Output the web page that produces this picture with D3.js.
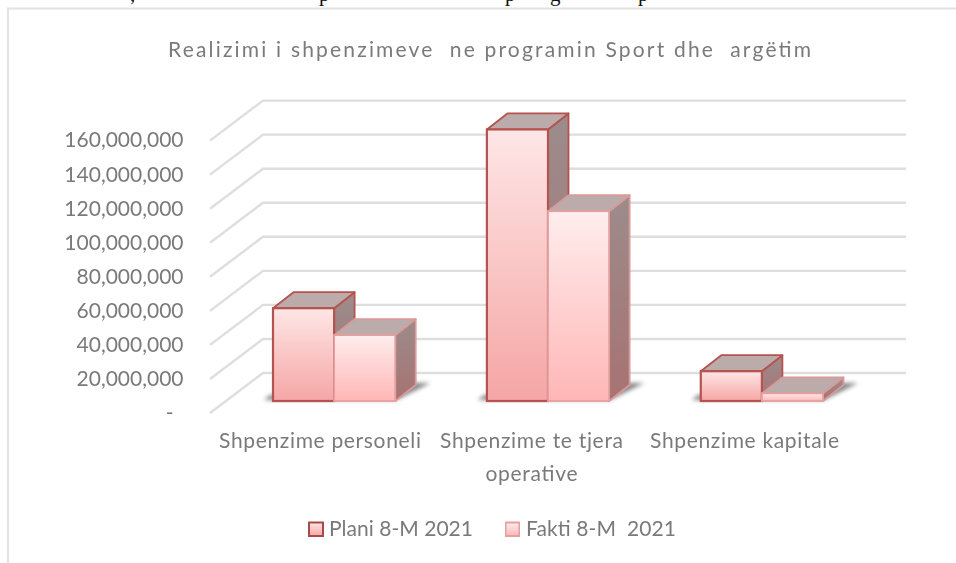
<!DOCTYPE html>
<html><head><meta charset="utf-8">
<script src="https://cdn.jsdelivr.net/npm/d3@7"></script>
<style>html,body{margin:0;padding:0;background:#fff;overflow:hidden}svg{display:block}</style>
</head><body><svg id="c" width="956" height="563"></svg>
<script>
const titleText = "Realizimi i shpenzimeve  ne programin Sport dhe  argëtim";
const categories = ["Shpenzime personeli", "Shpenzime te tjera operative", "Shpenzime kapitale"];
const seriesNames = ["Plani 8-M 2021", "Fakti 8-M  2021"];
const planiValues = [54500000, 159500000, 17500000];
const faktiValues = [38700000, 111500000, 4500000];
const tickValues = [0, 20000000, 40000000, 60000000, 80000000, 100000000, 120000000, 140000000, 160000000];

const svg = d3.select("#c");
const defs = svg.append("defs");
const grad = (id, stops, x2=0, y2=1) => {
  const g = defs.append("linearGradient").attr("id", id).attr("x1",0).attr("y1",0).attr("x2",x2).attr("y2",y2);
  stops.forEach(([o,c]) => g.append("stop").attr("offset",o).attr("stop-color",c));
};
grad("frontP", [[0,"#fee6e6"],[1,"#f5a6a5"]]);
grad("frontF", [[0,"#ffeded"],[1,"#ffb6b6"]]);
grad("side", [[0,"#9c8c8c"],[1,"#a87272"]]);
defs.append("filter").attr("id","soft").attr("x","-5%").attr("y","-5%").attr("width","110%").attr("height","110%")
  .append("feGaussianBlur").attr("stdDeviation",0.7);
defs.append("filter").attr("id","shadow").attr("x","-30%").attr("y","-60%").attr("width","160%").attr("height","220%")
  .append("feGaussianBlur").attr("stdDeviation",2);
defs.append("filter").attr("id","txt").attr("x","-2%").attr("y","-10%").attr("width","104%").attr("height","120%")
  .append("feGaussianBlur").attr("stdDeviation",0.35);

const textColor = "#7a7a7a", font = "Lato, sans-serif";
const depthGridX = 53, depthGridY = 40, depthBarX = 20.5, depthBarY = 16;

// frame of the source document
svg.append("path").attr("d","M8 563V8.5H956").attr("fill","none").attr("stroke","#e2e2e2").attr("stroke-width",2);

// cropped body text line above the chart
const fragments = [[130,","],[319,"p"],[505,"p"],[550,"g"],[638,"p"]];
svg.append("g").selectAll("text").data(fragments).join("text")
  .attr("x",d=>d[0]).attr("y",1).text(d=>d[1])
  .attr("font-family","'Liberation Serif', serif").attr("font-size",21).attr("fill","#111");

// title
svg.append("text").attr("x",489.5).attr("y",57).attr("text-anchor","middle")
  .style("white-space","pre").attr("font-family",font).attr("font-size",21).attr("fill",textColor)
  .attr("textLength",643).attr("lengthAdjust","spacing").text(titleText).attr("filter","url(#txt)");

// scales
const yGrid = d3.scaleLinear().domain([0,160000000]).range([413,140.6]);
const yBar = d3.scaleLinear().domain([0,160000000]).range([401,128.6]);
const xBand = d3.scaleBand().domain(categories).range([273,823]).paddingInner(0.4286).paddingOuter(0);
const xSeries = d3.scaleBand().domain(seriesNames).range([0,xBand.bandwidth()]);

// gridlines
const xFront = 210, xBack = 263, xRight = 906;
svg.append("g").attr("filter","url(#soft)").selectAll("path").data(tickValues).join("path")
  .attr("d",v=>`M${xFront} ${yGrid(v)}L${xBack} ${yGrid(v)-depthGridY}H${xRight}`)
  .attr("fill","none").attr("stroke","#dedede").attr("stroke-width",2.4);

// y axis labels
const axis = d3.axisLeft(yGrid).tickValues(tickValues).tickSize(0).tickPadding(0)
  .tickFormat(v=> v===0 ? "-" : d3.format(",")(v));
const axG = svg.append("g").attr("transform","translate(183.5,0)").call(axis);
axG.select(".domain").remove();
axG.selectAll("text").attr("font-family",font).attr("font-size",21).attr("fill",textColor)
  .attr("dy","0.35em").attr("transform","translate(0,-1)").attr("filter","url(#txt)");
axG.selectAll(".tick").filter(d=>d===0).select("text").attr("x",-10);

// bars
const rows = categories.map((c,i)=>({c, vals:[planiValues[i], faktiValues[i]]}));
const groups = svg.append("g").selectAll("g").data(rows).join("g")
  .attr("transform",d=>`translate(${xBand(d.c)},0)`);
// floor shadow
const base = yBar(0), bw = xSeries.bandwidth();
groups.append("path").attr("filter","url(#shadow)").attr("fill","#707070").attr("opacity",0.85)
  .attr("d",`M-9 ${base-1}H${2*bw+1}L${2*bw+35} ${base-18}H${2*bw+12}L${2*bw} ${base-6}H-3Z`);

const barStroke = ["#b5534f","#e4a09e"], edgeStroke = ["#b5534f","#d99a98"];
const bars = groups.append("g").attr("filter","url(#soft)").selectAll("g")
  .data(d=>d.vals.map((v,i)=>({v,i}))).join("g")
  .attr("transform",d=>`translate(${xSeries(seriesNames[d.i])},0)`);
// side
bars.append("path").attr("fill","url(#side)").attr("stroke",d=>edgeStroke[d.i]).attr("stroke-width",1.8).attr("stroke-linejoin","round")
  .attr("d",d=>{const t=yBar(d.v);return `M${bw} ${t}l${depthBarX} ${-depthBarY}V${base-depthBarY}L${bw} ${base}Z`;});
// top
bars.append("path").attr("fill","#bcabab").attr("stroke",d=>edgeStroke[d.i]).attr("stroke-width",1.8).attr("stroke-linejoin","round")
  .attr("d",d=>{const t=yBar(d.v);return `M0 ${t}l${depthBarX} ${-depthBarY}H${bw+depthBarX}L${bw} ${t}Z`;});
// front
bars.append("rect").attr("x",0).attr("width",bw).attr("y",d=>yBar(d.v)).attr("height",d=>base-yBar(d.v))
  .attr("fill",d=>d.i===0?"url(#frontP)":"url(#frontF)").attr("stroke",d=>barStroke[d.i])
  .attr("stroke-width",d=>d.i===0?2.2:1.8);

// category labels
const labelLines = [["Shpenzime personeli"],["Shpenzime te tjera","operative"],["Shpenzime kapitale"]];
const labelCentre = [320,531.5,744.5], labelWidth = [[202],[183,92],[189]];
labelLines.forEach((lines,i)=>lines.forEach((t,j)=>{
  svg.append("text").attr("x",labelCentre[i]).attr("y",448+j*33).attr("text-anchor","middle")
    .attr("font-family",font).attr("font-size",21).attr("fill",textColor)
    .attr("textLength",labelWidth[i][j]).attr("lengthAdjust","spacing").attr("filter","url(#txt)").text(t);
}));

// legend
const legendBoxX = [309,505.5], legendTextX = [329,526], legendTextW = [144,150];
const lg = svg.append("g").selectAll("g").data(seriesNames).join("g");
lg.append("rect").attr("x",(d,i)=>legendBoxX[i]).attr("y",522.5).attr("width",14).attr("height",13.5)
  .attr("fill",(d,i)=>i===0?"url(#frontP)":"url(#frontF)").attr("stroke",(d,i)=>i===0?"#a84a48":"#e4a09e").attr("stroke-width",2).attr("filter","url(#txt)");
lg.append("text").attr("x",(d,i)=>legendTextX[i]).attr("y",536).style("white-space","pre")
  .attr("font-family",font).attr("font-size",21).attr("fill",textColor)
  .attr("textLength",(d,i)=>legendTextW[i]).attr("lengthAdjust","spacing").attr("filter","url(#txt)").text(d=>d);
</script></body></html>
